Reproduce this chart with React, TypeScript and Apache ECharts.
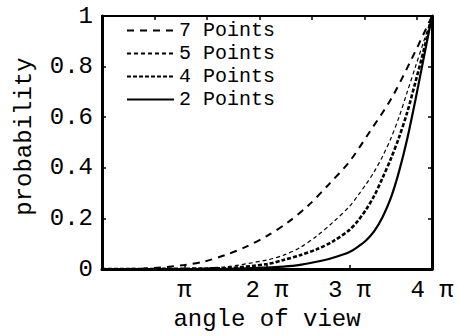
import React, { useEffect, useRef } from "react";
import * as echarts from "echarts";

// Angle of view, in multiples of pi (0 .. 4 pi steradians)
const angle7 = [0, 0.5, 1, 1.25, 1.5, 1.75, 2, 2.25, 2.5, 2.75, 3, 3.25, 3.5, 3.75, 4];
const prob7 = [0, 0.002, 0.016, 0.031, 0.056, 0.089, 0.131, 0.184, 0.251, 0.335, 0.425, 0.545, 0.67, 0.828, 1];

const angle5 = [0, 1, 1.5, 2, 2.2, 2.4, 2.6, 2.8, 3, 3.1, 3.2, 3.3, 3.4, 3.5, 3.6, 3.7, 3.8, 3.9, 4];
const prob5 = [0, 0.002, 0.009, 0.036, 0.055, 0.085, 0.13, 0.185, 0.248, 0.29, 0.335, 0.385, 0.445, 0.515, 0.6, 0.7, 0.8, 0.9, 1];

const angle4 = [0, 1.5, 2, 2.2, 2.4, 2.6, 2.8, 3, 3.1, 3.2, 3.3, 3.4, 3.5, 3.6, 3.7, 3.8, 3.9, 4];
const prob4 = [0, 0.004, 0.02, 0.036, 0.055, 0.078, 0.11, 0.155, 0.19, 0.235, 0.29, 0.36, 0.435, 0.52, 0.62, 0.74, 0.865, 1];

const angle2 = [0, 1.5, 2, 2.2, 2.4, 2.6, 2.8, 3, 3.1, 3.2, 3.3, 3.4, 3.5, 3.6, 3.7, 3.8, 3.9, 4];
const prob2 = [0, 0.001, 0.006, 0.01, 0.017, 0.029, 0.045, 0.068, 0.088, 0.113, 0.15, 0.205, 0.28, 0.385, 0.515, 0.67, 0.835, 1];

const seriesNames = ["7 Points", "5 Points", "4 Points", "2 Points"];
const yTicks = [0, 0.2, 0.4, 0.6, 0.8, 1];

const FONT = "'Courier New', 'Liberation Mono', monospace";
const FS = 24;

const pairs = (xs: number[], ys: number[]) => xs.map((x, i) => [x, ys[i]]);

export default function App() {
  const ref = useRef<HTMLDivElement>(null);

  useEffect(() => {
    if (!ref.current) return;
    const chart = echarts.init(ref.current, undefined, { renderer: "svg" });

    const lineDefs = [
      { data: pairs(angle7, prob7), width: 2, type: [7, 6] },
      { data: pairs(angle5, prob5), width: 1.2, type: [4, 3] },
      { data: pairs(angle4, prob4), width: 2.6, type: [4, 2] },
      { data: pairs(angle2, prob2), width: 2.2, type: "solid" },
    ];

    const frame = (width: number) => ({
      axisLine: { show: true, onZero: false, lineStyle: { color: "#000", width } },
      axisTick: { show: true, inside: true, length: 4, lineStyle: { color: "#000", width: 1.5 } },
      splitLine: { show: false },
    });

    chart.setOption({
      animation: false,
      backgroundColor: "#ffffff",
      grid: { left: 102, right: 27, top: 16, bottom: 55, containLabel: false },
      legend: {
        orient: "vertical",
        left: 121,
        top: 14,
        itemWidth: 47,
        itemHeight: 14,
        itemGap: 0,
        data: seriesNames,
        itemStyle: { opacity: 0 },
        textStyle: { fontFamily: FONT, fontSize: 20, lineHeight: 23, color: "#000", padding: [0, 0, 0, 0] },
      },
      xAxis: [
        {
          type: "value",
          position: "bottom",
          min: 0,
          max: 4,
          interval: 1,
          name: "angle of view",
          nameLocation: "middle",
          nameGap: 34,
          nameTextStyle: { fontFamily: FONT, fontSize: FS, color: "#000" },
          ...frame(3),
          axisLabel: {
            margin: 9,
            fontFamily: FONT,
            fontSize: FS,
            color: "#000",
            formatter: (v: number) => (v === 0 ? "" : v === 1 ? "π" : `${v} π`),
          },
        },
        {
          type: "value",
          position: "top",
          min: 0,
          max: 4 * Math.PI,
          interval: 2,
          ...frame(2),
          axisLabel: { show: false },
        },
      ],
      yAxis: [
        {
          type: "value",
          position: "left",
          min: 0,
          max: 1,
          interval: 0.2,
          name: "probability",
          nameLocation: "middle",
          nameGap: 66,
          nameTextStyle: { fontFamily: FONT, fontSize: FS, color: "#000", padding: [0, 0, 0, 12] },
          ...frame(3),
          axisLabel: {
            margin: 9,
            fontFamily: FONT,
            fontSize: FS,
            color: "#000",
            formatter: (v: number) => {
              const t = yTicks.find((k) => Math.abs(k - v) < 1e-9);
              if (t === undefined) return "";
              return t === 0 || t === 1 ? String(t) : t.toFixed(1);
            },
          },
        },
        {
          type: "value",
          position: "right",
          min: 0,
          max: 1,
          interval: 0.2,
          ...frame(3),
          axisLabel: { show: false },
        },
      ],
      series: lineDefs.map((d, i) => ({
        name: seriesNames[i],
        type: "line",
        xAxisIndex: 0,
        yAxisIndex: 0,
        data: d.data,
        smooth: 0.3,
        showSymbol: false,
        symbol: "none",
        lineStyle: { color: "#000", width: d.width, type: d.type },
        itemStyle: { color: "#000" },
        z: 2,
      })),
    });

    return () => chart.dispose();
  }, []);

  return (
    <div
      ref={ref}
      style={{ position: "fixed", left: 0, top: 0, width: 459, height: 336, background: "#fff" }}
    />
  );
}
